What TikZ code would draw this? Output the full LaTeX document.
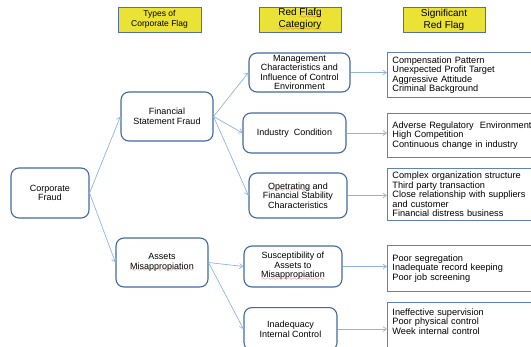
\documentclass[tikz,border=0pt]{standalone}
\usepackage{fontspec}
\setmainfont{Liberation Sans}
\usepackage{xcolor}
\usepackage{tikz}
\usetikzlibrary{arrows.meta,positioning,calc}

\definecolor{hdrfill}{RGB}{234,226,52}
\definecolor{hdrline}{RGB}{84,112,160}
\definecolor{boxline}{RGB}{66,106,160}
\definecolor{rboxline}{RGB}{96,130,186}
\definecolor{arrline}{RGB}{142,180,227}
\definecolor{squig}{RGB}{220,30,30}

\font\sixwave=lasy6
\newcommand\spellwave[1]{\setbox0\hbox{#1}\rlap{\textcolor{squig}{\lower2.6pt\hbox to \wd0{\xleaders\hbox{\sixwave\char58}\hfill}}}#1}

\begin{document}
\begin{tikzpicture}[x=1pt,y=-1pt,>={Straight Barb[length=3.5pt,width=5pt]},
  hdr/.style={draw=hdrline,fill=hdrfill,line width=0.9pt,align=center,inner sep=1pt},
  rbox/.style={draw=boxline,line width=1.1pt,rounded corners=8pt,align=center,inner sep=1pt,
    font=\fontsize{9}{9.5}\selectfont},
  flagbox/.style={draw=rboxline,line width=0.9pt,anchor=north west,minimum width=160pt,
    text width=150pt,inner xsep=5pt,align=left,font=\fontsize{9.2}{9.5}\selectfont},
  link/.style={->,draw=arrline,line width=0.7pt}]
\useasboundingbox (0,0) rectangle (531,346);
\clip (0,0) rectangle (531,346);
% column headers
\node[hdr,minimum width=83pt,minimum height=25pt,font=\fontsize{8.5}{10}\selectfont] (hdrtype) at (159.5,19.5) {Types of\\Corporate Flag};
\node[hdr,minimum width=82pt,minimum height=25pt,font=\fontsize{10}{12}\selectfont] (hdrcat) at (300,19.5) {Red \spellwave{Flafg}\\\spellwave{Categiory}};
\node[hdr,minimum width=82pt,minimum height=25pt,font=\fontsize{10}{12}\selectfont] (hdrsig) at (444,19.5) {Significant\\Red Flag};
% root
\node[rbox,minimum width=78pt,minimum height=50pt] (corp) at (50,193) {Corporate\\Fraud};
% types of fraud
\node[rbox,minimum width=92pt,minimum height=49pt] (fsf) at (167,116.5) {Financial\\Statement Fraud};
\node[rbox,minimum width=92pt,minimum height=49pt] (asset) at (162,262.5) {Assets\\\spellwave{Misappropiation}};
% red flag categories
\node[rbox,minimum width=101pt,minimum height=39pt] (mgmt) at (299.5,72.5) {Management\\Characteristics and\\Influence of Control\\Environment};
\node[rbox,minimum width=103pt,minimum height=40pt] (indus) at (294.5,133) {Industry\ \ Condition};
\node[rbox,minimum width=98pt,minimum height=45pt] (oper) at (298,195.5) {\spellwave{Opetrating} and\\Financial Stability\\Characteristics};
\node[rbox,minimum width=98pt,minimum height=41pt] (suscep) at (293,266.5) {Susceptibility of\\Assets to\\\spellwave{Misappropiation}};
\node[rbox,minimum width=93pt,minimum height=43pt,anchor=north] (inadeq) at (290.5,307) {Inadequacy\\Internal Control};
% significant red flags
\node[flagbox,minimum height=45pt] (comp) at (387,52) {Compensation Pattern\\Unexpected Profit Target\\Aggressive Attitude\\Criminal Background};
\node[flagbox,minimum height=44pt] (adverse) at (387,113) {Adverse Regulatory\ \ Environment\\High Competition\\Continuous change in industry};
\node[flagbox,minimum height=52pt] (complex) at (387,168) {Complex organization structure\\Third party transaction\\Close relationship with suppliers\\and customer\\Financial distress business};
\node[flagbox,minimum height=46pt] (poor) at (387,245) {Poor segregation\\Inadequate record keeping\\Poor job screening};
\node[flagbox,draw=none,minimum height=38pt] (ineff) at (387,302) {Ineffective supervision\\Poor physical control\\Week internal control};
\draw[draw=rboxline,line width=0.9pt] (ineff.north west) rectangle ++(160,60);
% connectors
\draw[link] (corp.east) -- (fsf.west);
\draw[link] (corp.east) -- (asset.west);
\draw[link] (fsf.east) -- (mgmt.west);
\draw[link] (fsf.east) -- (indus.west);
\draw[link] (fsf.east) -- (oper.west);
\draw[link] (asset.east) -- (suscep.west);
\draw[link] (asset.east) -- (inadeq.west);
\draw[link] (mgmt.east) -- (mgmt.east -| comp.west);
\draw[link] (indus.east) -- (indus.east -| adverse.west);
\draw[link] (oper.east) -- (oper.east -| complex.west);
\draw[link] (suscep.east) -- (suscep.east -| poor.west);
\draw[link] (inadeq.east) -- (inadeq.east -| ineff.west);
\end{tikzpicture}
\end{document}
